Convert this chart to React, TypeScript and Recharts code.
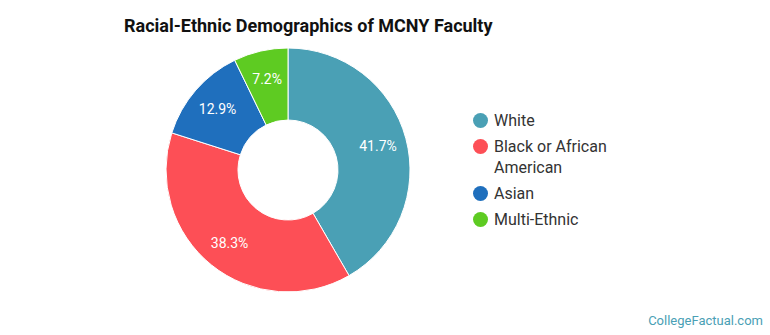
import React from "react";
import { PieChart, Pie, Cell } from "recharts";

const categories = ["White", "Black or African American", "Asian", "Multi-Ethnic"];
const values = [41.7, 38.3, 12.9, 7.2];
const colors = ["#4aa0b5", "#fd4f56", "#1f6fbd", "#5ecb22"];
const legendLines = [["White"], ["Black or African", "American"], ["Asian"], ["Multi-Ethnic"]];

const data = categories.map((name, i) => ({ name, value: values[i] }));

const RAD = Math.PI / 180;

const renderLabel = (props: any) => {
  const { cx, cy, midAngle, innerRadius, outerRadius, value } = props;
  const r = innerRadius + (outerRadius - innerRadius) * 0.6;
  const x = cx + r * Math.cos(-midAngle * RAD);
  const y = cy + r * Math.sin(-midAngle * RAD);
  return (
    <text
      x={x}
      y={y}
      fill="#ffffff"
      textAnchor="middle"
      dominantBaseline="central"
      fontSize={14}
      fontFamily="Roboto, sans-serif"
    >
      {value.toFixed(1)}%
    </text>
  );
};

const LegendContent = () => (
  <div style={{ fontFamily: "Roboto, sans-serif", fontSize: 16, color: "#333" }}>
    {categories.map((c, i) => (
      <div key={c} style={{ display: "flex", alignItems: "flex-start", marginBottom: 5 }}>
        <span
          style={{
            display: "inline-block",
            width: 15,
            height: 15,
            borderRadius: "50%",
            background: colors[i],
            marginRight: 6,
            marginTop: 3,
            flexShrink: 0,
          }}
        />
        <span style={{ lineHeight: "21px" }}>
          {legendLines[i].map((l, j) => (
            <div key={j}>{l}</div>
          ))}
        </span>
      </div>
    ))}
  </div>
);

export default function App() {
  return (
    <div style={{ position: "fixed", left: 0, top: 0, width: 770, height: 335, background: "#fff" }}>
      <div
        style={{
          position: "absolute",
          left: 124,
          top: 15,
          fontFamily: "Roboto, sans-serif",
          fontWeight: 700,
          fontSize: 18,
          color: "#111",
          whiteSpace: "nowrap",
        }}
      >
        Racial-Ethnic Demographics of MCNY Faculty
      </div>
      <div style={{ position: "absolute", left: 0, top: 0 }}>
        <PieChart width={770} height={335} margin={{ top: 0, right: 0, bottom: 0, left: 0 }}>
          <Pie
            data={data}
            dataKey="value"
            nameKey="name"
            cx={288}
            cy={170}
            innerRadius={50}
            outerRadius={122}
            startAngle={90}
            endAngle={-270}
            stroke="#ffffff"
            strokeWidth={1}
            label={renderLabel}
            labelLine={false}
            isAnimationActive={false}
          >
            {data.map((d, i) => (
              <Cell key={d.name} fill={colors[i]} />
            ))}
          </Pie>
        </PieChart>
      </div>
      <div style={{ position: "absolute", left: 473, top: 110, width: 200 }}>
        <LegendContent />
      </div>
      <div
        style={{
          position: "absolute",
          right: 7,
          top: 313,
          fontFamily: "Roboto, sans-serif",
          fontSize: 13,
          color: "#4aa0b5",
        }}
      >
        CollegeFactual.com
      </div>
    </div>
  );
}
